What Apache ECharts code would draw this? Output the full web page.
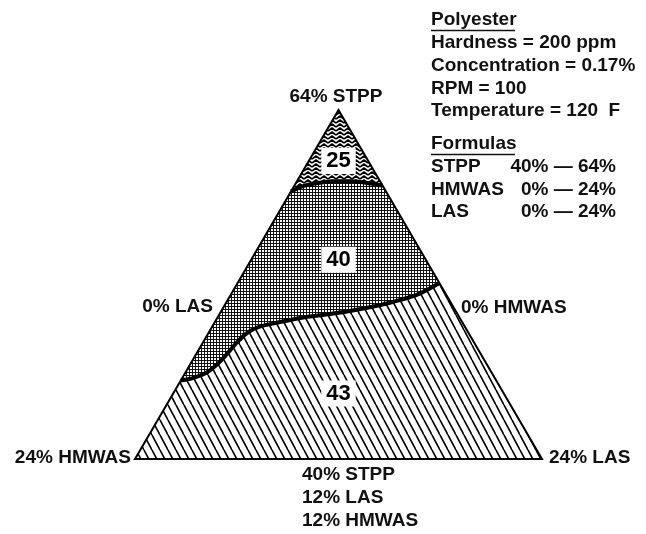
<!DOCTYPE html>
<html><head><meta charset="utf-8">
<script src="https://cdn.jsdelivr.net/npm/echarts@6/dist/echarts.min.js"></script>
<style>html,body{margin:0;padding:0;background:#fff}#c{width:646px;height:534px}</style>
</head><body><div id="c"></div>
<script>
// Ternary data (percent of STPP, HMWAS, LAS; each composition sums to 64%)
const upperSTPP  = [58.4, 58.8, 59.0, 59.1, 59.1, 59.0, 58.8];
const upperHMWAS = [5.6, 4.6, 3.6, 2.6, 1.7, 0.9, 0.0];
const upperLAS   = [0.0, 0.6, 1.4, 2.3, 3.2, 4.1, 5.2];

const lowerSTPP  = [45.4, 45.6, 46.0, 46.8, 48.0, 48.7, 49.1, 49.4, 49.7, 50.0, 50.4, 50.8, 51.3, 52.1];
const lowerHMWAS = [18.6, 17.7, 16.7, 15.5, 14.0, 13.0, 12.1, 10.8, 9.4, 7.3, 5.1, 3.4, 1.7, 0.0];
const lowerLAS   = [0.0, 0.7, 1.3, 1.7, 2.0, 2.3, 2.8, 3.8, 4.9, 6.7, 8.5, 9.8, 11.0, 11.9];

const vertexSTPP  = [64, 40, 40];
const vertexHMWAS = [0, 24, 0];
const vertexLAS   = [0, 0, 24];

const regionValues = ['25', '40', '43'];
const regionSTPP   = [60.5, 53.7, 44.5];
const regionHMWAS  = [1.75, 5.15, 9.75];
const regionLAS    = [1.75, 5.15, 9.75];

const infoLines = ['Hardness = 200 ppm', 'Concentration = 0.17%', 'RPM = 100', 'Temperature = 120  F'];
const formulaNames = ['STPP', 'HMWAS', 'LAS'];
const formulaRanges = ['40% — 64%', '0% — 24%', '0% — 24%'];

// ternary -> cartesian data coords
function tern(s, h, l) { return [l - h, s - 40]; }
const upper = upperSTPP.map((s, i) => tern(s, upperHMWAS[i], upperLAS[i]));
const lower = lowerSTPP.map((s, i) => tern(s, lowerHMWAS[i], lowerLAS[i]));
const V = vertexSTPP.map((s, i) => tern(s, vertexHMWAS[i], vertexLAS[i]));
const regionPts = regionValues.map((v, i) => tern(regionSTPP[i], regionHMWAS[i], regionLAS[i]).concat([i]));

// patterns
function mk(w, h, draw) { const c = document.createElement('canvas'); c.width = w; c.height = h; const g = c.getContext('2d'); g.fillStyle = '#fff'; g.fillRect(0, 0, w, h); draw(g); return c; }
const patChevron = mk(8, 4, g => {
  g.strokeStyle = '#000'; g.lineWidth = 1.7;
  for (let yy = -4; yy <= 8; yy += 4) { g.beginPath(); g.moveTo(0, yy + 3); g.lineTo(4, yy); g.lineTo(8, yy + 3); g.stroke(); }
});
const patGrid = mk(3, 3, g => { g.fillStyle = '#111'; g.fillRect(0, 0, 3, 1); g.fillRect(0, 0, 1, 3); });
const patDiag = mk(8, 15, g => {
  g.strokeStyle = '#000'; g.lineWidth = 1.6;
  [-8, 0, 8].forEach(dx => { g.beginPath(); g.moveTo(dx, 0); g.lineTo(dx + 8, 15); g.stroke(); });
});

function poly(ptsFn, style, z) {
  return { type: 'custom', coordinateSystem: 'cartesian2d', data: [[0, 0]], silent: true, z: z,
    renderItem: (p, api) => ({ type: 'polygon', shape: { points: ptsFn().map(q => api.coord(q)) }, style: style }) };
}

const font = "'Liberation Sans', Arial, sans-serif";
function txt(t, x, y, align, size) {
  return { type: 'text', x: x, y: y, silent: true, style: { text: t, fontSize: size || 19, fontWeight: 'bold', fontFamily: font, fill: '#111', align: align || 'left', verticalAlign: 'middle' } };
}

const graphic = [
  txt('Polyester', 431, 20), { type: 'line', shape: { x1: 431, y1: 30.5, x2: 515, y2: 30.5 }, style: { stroke: '#111', lineWidth: 1.5 } },
  ...infoLines.map((t, i) => txt(t, 431, 43 + i * 22.7)),
  txt('Formulas', 431, 144), { type: 'line', shape: { x1: 431, y1: 154.5, x2: 515, y2: 154.5 }, style: { stroke: '#111', lineWidth: 1.5 } },
  ...formulaNames.map((t, i) => txt(t, 431, 167 + i * 22.5)),
  ...formulaRanges.map((t, i) => txt(t, 616, 167 + i * 22.5, 'right')),
  txt('64% STPP', 336, 97, 'center'),
  txt('0% LAS', 213, 307, 'right'),
  txt('0% HMWAS', 461, 308, 'left'),
  txt('24% HMWAS', 131, 458, 'right'),
  txt('24% LAS', 549, 458, 'left'),
  txt('40% STPP', 302, 475, 'left'),
  txt('12% LAS', 302, 498, 'left'),
  txt('12% HMWAS', 302, 521, 'left')
];

const chart = echarts.init(document.getElementById('c'), null, { renderer: 'canvas' });
chart.setOption({
  animation: false,
  backgroundColor: '#fff',
  grid: { left: 135, right: 104, top: 110, bottom: 75, containLabel: false },
  xAxis: { type: 'value', min: -24, max: 24, show: false },
  yAxis: { type: 'value', min: 0, max: 24, show: false },
  graphic: graphic,
  series: [
    poly(() => [...upper, V[0]], { fill: { image: patChevron, repeat: 'repeat' } }, 1),
    poly(() => [...upper, ...lower.slice().reverse()], { fill: { image: patGrid, repeat: 'repeat' } }, 1),
    poly(() => [...lower, V[2], V[1]], { fill: { image: patDiag, repeat: 'repeat' } }, 1),
    { type: 'line', data: upper, smooth: 0.3, symbol: 'none', lineStyle: { color: '#000', width: 4 }, z: 3, silent: true },
    { type: 'line', data: lower, smooth: 0.3, symbol: 'none', lineStyle: { color: '#000', width: 4 }, z: 3, silent: true },
    poly(() => V, { fill: 'none', stroke: '#000', lineWidth: 2, lineJoin: 'miter' }, 4),
    { type: 'custom', coordinateSystem: 'cartesian2d', data: regionPts, silent: true, z: 6,
      renderItem: (p, api) => {
        const c = api.coord([api.value(0), api.value(1)]);
        return { type: 'text', x: c[0], y: c[1], style: { text: regionValues[api.value(2)], fontSize: 22, fontWeight: 'bold', fontFamily: font, fill: '#000', align: 'center', verticalAlign: 'middle', backgroundColor: '#fff', padding: [3, 5, 1, 5] } };
      } }
  ]
});
</script></body></html>
